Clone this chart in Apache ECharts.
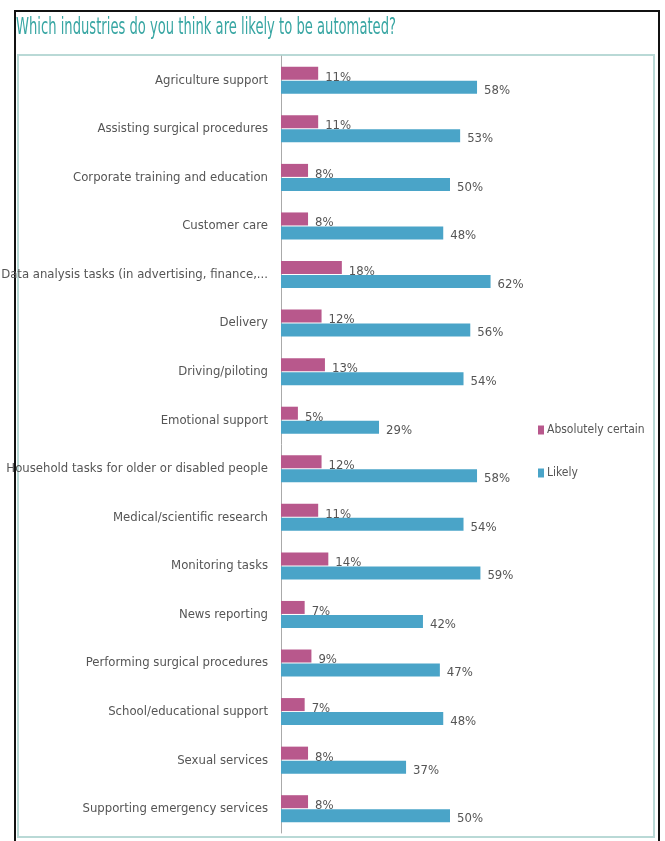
<!DOCTYPE html>
<html>
<head>
<meta charset="utf-8">
<script src="https://cdn.jsdelivr.net/npm/echarts@6/dist/echarts.min.js"></script>
<style>
  html, body { margin: 0; padding: 0; background: #fff; }
  #chart { width: 665px; height: 841px; }
</style>
</head>
<body>
<div id="chart"></div>
<script>
const industries = [
  "Agriculture support",
  "Assisting surgical procedures",
  "Corporate training and education",
  "Customer care",
  "Data analysis tasks (in advertising, finance,...",
  "Delivery",
  "Driving/piloting",
  "Emotional support",
  "Household tasks for older or disabled people",
  "Medical/scientific research",
  "Monitoring tasks",
  "News reporting",
  "Performing surgical procedures",
  "School/educational support",
  "Sexual services",
  "Supporting emergency services"
];
const absolutelyCertain = [11, 11, 8, 8, 18, 12, 13, 5, 12, 11, 14, 7, 9, 7, 8, 8];
const likely = [58, 53, 50, 48, 62, 56, 54, 29, 58, 54, 59, 42, 47, 48, 37, 50];

const FONT = '"DejaVu Sans Condensed", "Liberation Sans Narrow", Arial, sans-serif';
const chart = echarts.init(document.getElementById("chart"));

chart.setOption({
  animation: false,
  textStyle: { fontFamily: FONT },
  graphic: [
    // outer frame
    { type: "rect", shape: { x: 15, y: 11, width: 644, height: 836 }, style: { fill: "none", stroke: "#111", lineWidth: 2 }, silent: true },
    // inner teal frame
    { type: "rect", shape: { x: 18, y: 55, width: 636, height: 782 }, style: { fill: "none", stroke: "#b9d9d6", lineWidth: 2 }, silent: true },
    // title, squeezed to look like the narrow font of the original
    {
      type: "text",
      x: 16, y: 28,
      scaleX: 0.635,
      style: {
        text: "Which industries do you think are likely to be automated?",
        fill: "#38a6a3",
        font: '23px ' + FONT,
        verticalAlign: "middle"
      },
      silent: true
    }
  ],
  legend: {
    orient: "vertical",
    left: 533,
    top: 419,
    itemGap: 31,
    itemWidth: 6,
    itemHeight: 9,
    icon: "rect",
    textStyle: { color: "#555", fontSize: 12, padding: [0, 0, 0, -2], fontFamily: FONT },
    data: ["Absolutely certain", "Likely"]
  },
  grid: { left: 281, right: 46, top: 56, bottom: 8, outerBoundsMode: "none", containLabel: false },
  xAxis: {
    type: "value",
    min: 0,
    max: 100,
    show: false
  },
  yAxis: {
    type: "category",
    inverse: true,
    data: industries,
    axisLine: { lineStyle: { color: "#aaa" } },
    axisTick: { length: 3, lineStyle: { color: "#aaa" } },
    axisLabel: { color: "#555", fontSize: 13, margin: 13, fontFamily: FONT }
  },
  series: [
    {
      name: "Absolutely certain",
      type: "bar",
      data: absolutelyCertain,
      barWidth: 13,
      barGap: "8%",
      itemStyle: { color: "#b8588c" },
      label: {
        show: true,
        position: "right",
        distance: 7,
        offset: [0, 4],
        formatter: "{c}%",
        color: "#555",
        fontSize: 13,
        fontFamily: FONT
      }
    },
    {
      name: "Likely",
      type: "bar",
      data: likely,
      barWidth: 13,
      itemStyle: { color: "#4aa4c8" },
      label: {
        show: true,
        position: "right",
        distance: 7,
        offset: [0, 3],
        formatter: "{c}%",
        color: "#555",
        fontSize: 13,
        fontFamily: FONT
      }
    }
  ]
});
</script>
</body>
</html>
